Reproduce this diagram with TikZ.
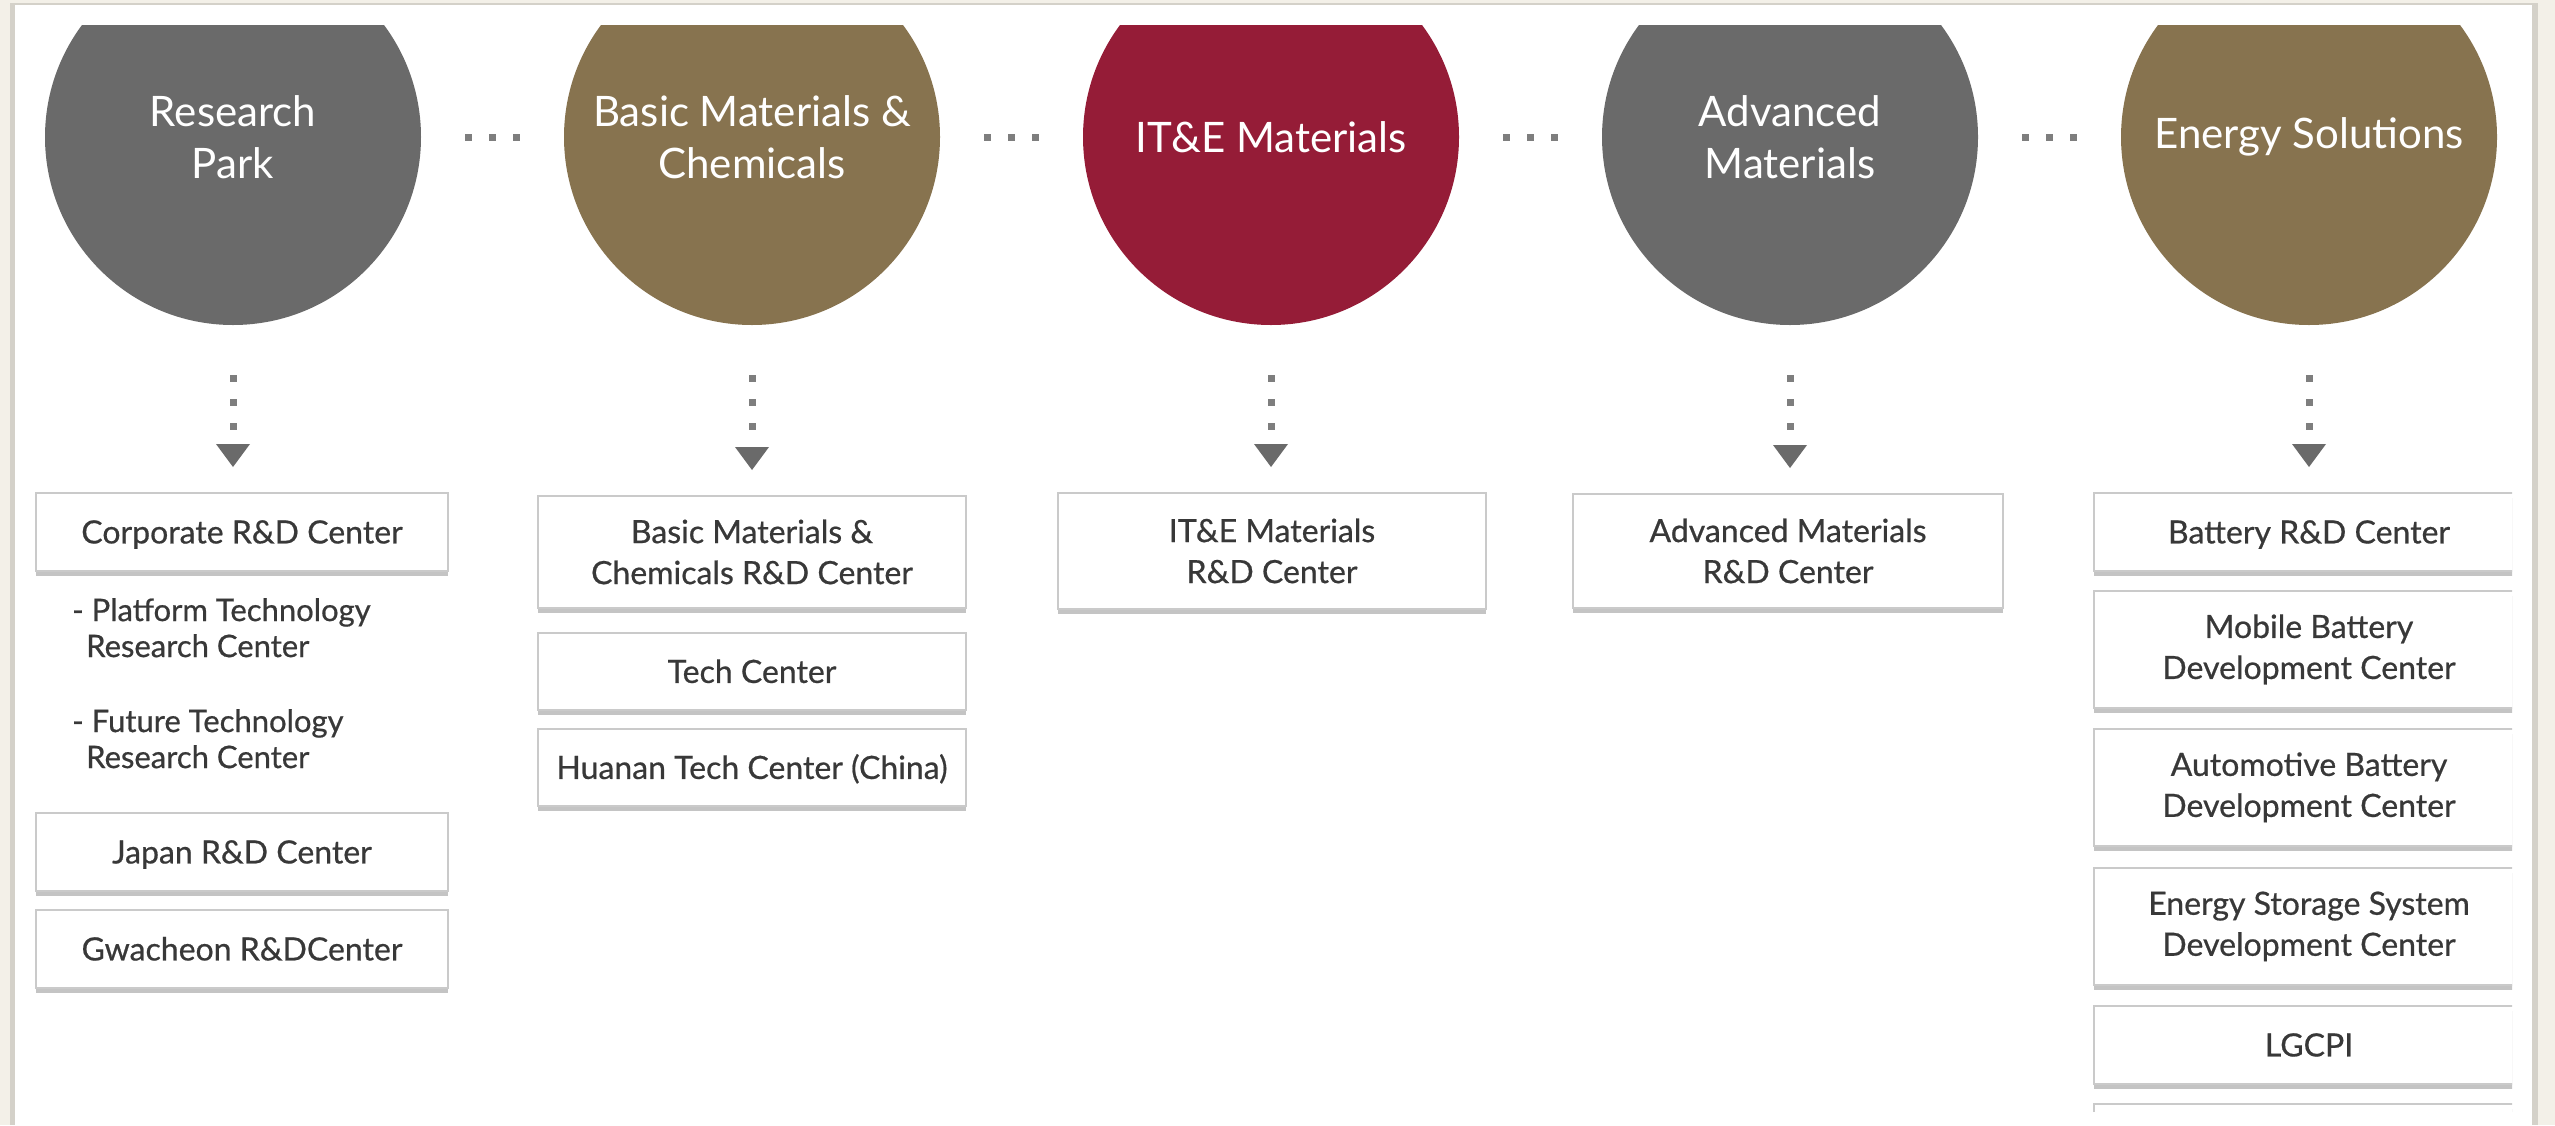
\documentclass[tikz,border=0pt]{standalone}
\usepackage{fontspec}
\setmainfont{Lato}
\newfontface\medface{Lato}[FakeBold=0.6]
\usetikzlibrary{arrows.meta,shadows}
\definecolor{bgc}{HTML}{F3F0E8}
\definecolor{pshadow}{HTML}{D4D1C9}
\definecolor{cgray}{HTML}{6A6A6A}
\definecolor{cgold}{HTML}{87734F}
\definecolor{cred}{HTML}{951C37}
\definecolor{boxline}{HTML}{CACACA}
\definecolor{boxshade}{HTML}{C4C4C4}
\definecolor{txt}{HTML}{383838}
\definecolor{dotc}{HTML}{7E7E7E}
\definecolor{tipc}{HTML}{6A6A6A}
\newcommand\bxfont{\medface\fontsize{32}{41}\selectfont}
\newcommand\sbfont{\medface\fontsize{31}{36}\selectfont}
\newcommand\crfont{\fontsize{42}{52}\selectfont}
\begin{document}
\begin{tikzpicture}[x=1pt,y=-1pt,
  circ/.style={circle,minimum size=376pt,inner sep=0pt,align=center,text=white,font=\crfont},
  box/.style={draw=boxline,line width=1.8pt,fill=white,text=txt,font=\bxfont,align=center,
    inner sep=0pt,minimum width=430pt,anchor=north,
    drop shadow={shadow xshift=0pt,shadow yshift=-5pt,fill=boxshade,opacity=1}},
  one/.style={minimum height=78pt,text height=23pt,text depth=0pt},
  two/.style={minimum height=117pt},
  sub/.style={text=txt,font=\sbfont,align=left,inner sep=0pt,anchor=north west},
  hdots/.style={draw=dotc,line width=7pt,dash pattern=on 7pt off 17pt,shorten <=44pt,shorten >=44pt},
  vconn/.style={draw=dotc,line width=7pt,dash pattern=on 7pt off 17pt,shorten <=50pt,shorten >=25pt,
    -{Triangle[length=23pt,width=34pt,line width=0pt,color=tipc]}}
]
\useasboundingbox (0,0) rectangle (2555,1125);
\fill[bgc] (0,0) rectangle (2555,1125);
\fill[pshadow] (10,3) rectangle (2538,1125);
\fill[white] (15,5) rectangle (2532,1125);

% circles
\begin{scope}
\clip (0,25) rectangle (2555,1125);
\node[circ,fill=cgray] (c1) at (233,137) {Research\\Park};
\node[circ,fill=cgold] (c2) at (752,137) {Basic Materials \&\\Chemicals};
\node[circ,fill=cred]  (c3) at (1271,137) {IT\&E Materials};
\node[circ,fill=cgray] (c4) at (1790,137) {Advanced\\Materials};
\node[circ,fill=cgold] (c5) at (2309,137) {Energy Solutions};
\end{scope}

\draw[hdots] (c1.east) -- (c2.west);
\draw[hdots] (c2.east) -- (c3.west);
\draw[hdots] (c3.east) -- (c4.west);
\draw[hdots] (c4.east) -- (c5.west);

% column 1
\node[box,one,minimum width=412pt] (b11) at (242,492) {Corporate R\&D Center};
\node[sub] (s11) at (72,598) {- Platform Technology\\\hspace*{14pt}Research Center};
\node[sub] (s12) at (72,709) {- Future Technology\\\hspace*{14pt}Research Center};
\node[box,one,minimum width=412pt] (b12) at (242,812) {Japan R\&D Center};
\node[box,one,minimum width=412pt] (b13) at (242,909) {Gwacheon R\&DCenter};

% column 2
\node[box,minimum height=112pt,minimum width=428pt] (b21) at (752,495) {Basic Materials \&\\Chemicals R\&D Center};
\node[box,one,minimum height=77pt,minimum width=428pt] (b22) at (752,632) {Tech Center};
\node[box,one,minimum height=77pt,minimum width=428pt] (b23) at (752,728) {Huanan Tech Center (China)};

% column 3
\node[box,minimum height=116pt,minimum width=428pt] (b31) at (1272,492) {IT\&E Materials\\R\&D Center};

% column 4
\node[box,minimum height=114pt] (b41) at (1788,493) {Advanced Materials\\R\&D Center};

% column 5
\begin{scope}
\clip (2060,470) rectangle (2512,1111);
\node[box,one] (b51) at (2309,492) {Battery R\&D Center};
\node[box,two] (b52) at (2309,590) {Mobile Battery\\Development Center};
\node[box,two] (b53) at (2309,728) {Automotive Battery\\Development Center};
\node[box,two] (b54) at (2309,867) {Energy Storage System\\Development Center};
\node[box,one] (b55) at (2309,1005) {LGCPI};
\node[box,one] (b56) at (2309,1103) {};
\end{scope}

% vertical connectors
\draw[vconn] (c1.south) -- (c1.south |- b11.north);
\draw[vconn] (c2.south) -- (c2.south |- b21.north);
\draw[vconn] (c3.south) -- (c3.south |- b31.north);
\draw[vconn] (c4.south) -- (c4.south |- b41.north);
\draw[vconn] (c5.south) -- (c5.south |- b51.north);
\end{tikzpicture}
\end{document}
